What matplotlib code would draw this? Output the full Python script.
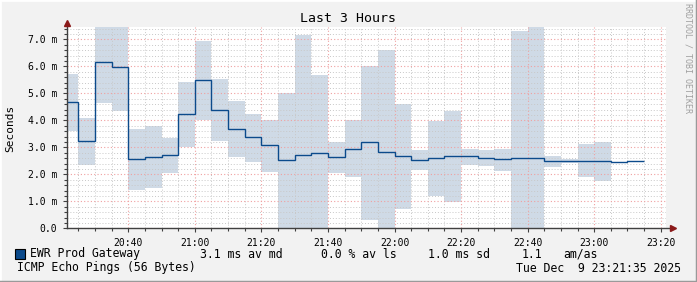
import matplotlib
matplotlib.use("Agg")
import matplotlib.pyplot as plt
from matplotlib.patches import Rectangle
from matplotlib.ticker import MultipleLocator, FuncFormatter
import numpy as np

# bin start times (HH:MM), first bin starts at the graph start 20:21:35
bin_starts = ["20:21:35", "20:25", "20:30", "20:35", "20:40", "20:45", "20:50", "20:55",
              "21:00", "21:05", "21:10", "21:15", "21:20", "21:25", "21:30", "21:35",
              "21:40", "21:45", "21:50", "21:55", "22:00", "22:05", "22:10", "22:15",
              "22:20", "22:25", "22:30", "22:35", "22:40", "22:45", "22:50", "22:55",
              "23:00", "23:05", "23:10"]
bin_end = "23:15"
graph_start = "20:21:35"
graph_end = "23:21:35"

# values in milliseconds
median = [4.67, 3.23, 6.18, 5.96, 2.56, 2.64, 2.71, 4.22,
          5.48, 4.38, 3.68, 3.38, 3.07, 2.52, 2.71, 2.80,
          2.64, 2.94, 3.18, 2.81, 2.68, 2.52, 2.60, 2.68,
          2.68, 2.62, 2.57, 2.60, 2.60, 2.49, 2.49, 2.49,
          2.49, 2.44, 2.48]
low = [3.60, 2.36, 4.63, 4.36, 1.42, 1.50, 2.05, 3.01,
       4.01, 3.23, 2.63, 2.47, 2.10, 0.0, 0.0, 0.0,
       2.05, 1.89, 0.31, 0.0, 0.71, 2.16, 1.20, 0.99,
       2.35, 2.32, 2.14, 0.0, 0.0, 2.28, 2.42, 1.89,
       1.76, 2.43, 2.47]
high = [5.71, 4.07, 7.60, 7.60, 3.68, 3.79, 3.36, 5.42,
        6.95, 5.53, 4.73, 4.23, 4.02, 5.02, 7.16, 5.68,
        3.21, 4.01, 6.02, 6.60, 4.60, 2.91, 3.99, 4.36,
        2.94, 2.91, 2.94, 7.31, 7.60, 2.69, 2.58, 3.12,
        3.20, 2.45, 2.49]


def to_min(s):
    parts = [int(p) for p in s.split(":")]
    m = parts[0] * 60 + parts[1]
    if len(parts) > 2:
        m += parts[2] / 60.0
    return m


edges = np.array([to_min(t) for t in bin_starts] + [to_min(bin_end)])
x0, x1 = to_min(graph_start), to_min(graph_end)

W, H = 697, 282
mono = "DejaVu Sans Mono"
fig = plt.figure(figsize=(W / 100, H / 100), dpi=100, facecolor="#f2f2f2")

ax = fig.add_axes([67 / W, (H - 228.3) / H, (666 - 67) / W, (228.3 - 26.7) / H])
ax.set_facecolor("white")
ax.set_xlim(x0, x1)
ax.set_ylim(0, 7.47)

shade = "#cfdae6"
line_col = "#0b4a8b"
ax.stairs(high, edges, baseline=low, fill=True, color=shade, lw=0, zorder=2)
ax.stairs(median, edges, baseline=None, color=line_col, lw=1.0, zorder=4)

# grid
ax.xaxis.set_major_locator(MultipleLocator(20))
ax.xaxis.set_minor_locator(MultipleLocator(5))
ax.yaxis.set_major_locator(MultipleLocator(1))
ax.yaxis.set_minor_locator(MultipleLocator(0.2))
ax.grid(which="minor", color="#c8c8c8", lw=0.7, ls=(0, (1, 2)), zorder=3)
ax.grid(which="major", color="#f0a0a0", lw=0.8, ls=(0, (1, 2)), zorder=3)
ax.set_axisbelow(False)

ax.xaxis.set_major_formatter(FuncFormatter(lambda v, p: "%02d:%02d" % (int(v) // 60, int(v) % 60)))
ax.yaxis.set_major_formatter(FuncFormatter(lambda v, p: "0.0" if abs(v) < 1e-9 else "%.1f m" % v))
ax.tick_params(which="both", labelsize=7, colors="#404040", labelcolor="black",
               width=0.8)
ax.tick_params(which="major", length=3, pad=4)
ax.tick_params(which="minor", length=2)
for lab in ax.get_xticklabels() + ax.get_yticklabels():
    lab.set_fontfamily(mono)

for s in ax.spines.values():
    s.set_visible(False)

# axes lines with arrows
ax.plot([0, 1.012], [0, 0], transform=ax.transAxes, color="#404040", lw=1, clip_on=False, zorder=5)
ax.plot([0, 0], [0, 1.02], transform=ax.transAxes, color="#404040", lw=1, clip_on=False, zorder=5)
ax.plot([1.012], [0], transform=ax.transAxes, marker=">", color="#8b1a1a", ms=5, clip_on=False, zorder=6)
ax.plot([0], [1.02], transform=ax.transAxes, marker="^", color="#8b1a1a", ms=5, clip_on=False, zorder=6)

# texts
fig.text(348 / W, 1 - 18 / H, "Last 3 Hours", ha="center", va="center", fontsize=9.5, family=mono)
fig.text(10 / W, 1 - 128 / H, "Seconds", ha="center", va="center", rotation=90, fontsize=8, family=mono)
fig.text(688 / W, 1 - 3 / H, "RRDTOOL / TOBI OETIKER", ha="center", va="top", rotation=-90,
         fontsize=6, family=mono, color="#a0a0a0")

ly = 1 - 254 / H
fig.patches.append(Rectangle((15 / W, 1 - 258.5 / H), 10 / W, 9.5 / H, transform=fig.transFigure,
                             facecolor=line_col, edgecolor="black", lw=0.8))
legend_parts = [(30, "EWR Prod Gateway"), (200, "3.1 ms av md"), (321, "0.0 % av ls"),
                (428, "1.0 ms sd"), (522, "1.1"), (563, "am/as")]
for px, txt in legend_parts:
    fig.text(px / W, ly, txt, ha="left", va="center", fontsize=8.3, family=mono)

fy = 1 - 268 / H
fig.text(17 / W, fy, "ICMP Echo Pings (56 Bytes)", ha="left", va="center", fontsize=8.3, family=mono)
fig.text(681 / W, fy, "Tue Dec  9 23:21:35 2025", ha="right", va="center", fontsize=8.3, family=mono)

# 3d frame
fig.add_artist(plt.Line2D([0, 1], [1, 1], color="white", lw=2, transform=fig.transFigure))
fig.add_artist(plt.Line2D([0, 0], [0, 1], color="white", lw=2, transform=fig.transFigure))
fig.add_artist(plt.Line2D([0, 1], [0, 0], color="#9a9a9a", lw=2.5, transform=fig.transFigure))
fig.add_artist(plt.Line2D([1, 1], [0, 1], color="#9a9a9a", lw=2.5, transform=fig.transFigure))

fig.savefig("out.png", dpi=100, facecolor=fig.get_facecolor())
